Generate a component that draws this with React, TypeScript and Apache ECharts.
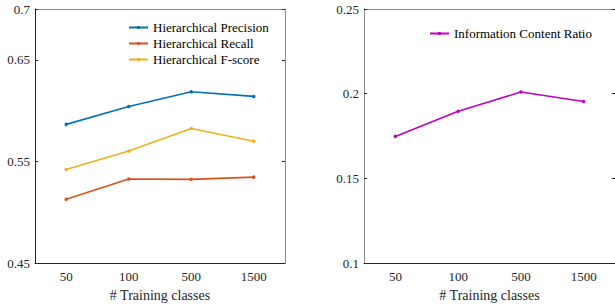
import React, { useEffect, useRef } from "react";
import * as echarts from "echarts";

const categories = ["50", "100", "500", "1500"];
const precision = [0.5865, 0.604, 0.6186, 0.614];
const recall = [0.5128, 0.5327, 0.5324, 0.5346];
const fscore = [0.542, 0.5603, 0.5824, 0.5699];
const icr = [0.1748, 0.1896, 0.201, 0.1954];
const leftTicks = [0.45, 0.55, 0.65, 0.7];
const rightTicks = [0.1, 0.15, 0.2, 0.25];

const FONT = "'Liberation Serif', 'Times New Roman', serif";
const DARK = "#262626";
const GRAY = "#8a8a8a";

export default function App() {
  const ref = useRef<HTMLDivElement>(null);
  useEffect(() => {
    const chart = echarts.init(ref.current!, null, { renderer: "svg" });
    const labelStyle = { fontFamily: FONT, fontSize: 13, color: DARK };
    const xBottom = (gridIndex: number) => ({
      type: "category",
      gridIndex,
      data: categories,
      position: "bottom",
      boundaryGap: true,
      name: "# Training classes",
      nameLocation: "middle",
      nameGap: 20,
      nameTextStyle: { ...labelStyle, fontSize: 14 },
      axisLine: { lineStyle: { color: DARK, width: 1 } },
      axisTick: { inside: true, length: 3, alignWithLabel: true, lineStyle: { color: DARK } },
      axisLabel: { ...labelStyle, margin: 7 },
      splitLine: { show: false },
    });
    const xTop = (gridIndex: number) => ({
      type: "category",
      gridIndex,
      data: categories,
      position: "top",
      boundaryGap: true,
      axisLine: { lineStyle: { color: GRAY, width: 1 } },
      axisTick: { inside: true, length: 3, alignWithLabel: true, lineStyle: { color: DARK } },
      axisLabel: { show: false },
      splitLine: { show: false },
    });
    const yAxis = (gridIndex: number, min: number, max: number, ticks: number[], pos: string, lineColor: string) => ({
      type: "value",
      gridIndex,
      min,
      max,
      position: pos,
      axisLine: { show: true, lineStyle: { color: lineColor, width: 1 } },
      axisTick: { show: true, inside: true, length: 3, customValues: ticks, lineStyle: { color: DARK } },
      axisLabel: pos === "left"
        ? { ...labelStyle, margin: 5, customValues: ticks, formatter: (v: number) => String(+v.toFixed(2)) }
        : { show: false },
      splitLine: { show: false },
    });
    const line = (name: string, data: number[], color: string, xi: number, yi: number) => ({
      type: "line",
      name,
      data,
      xAxisIndex: xi,
      yAxisIndex: yi,
      symbol: "circle",
      symbolSize: 3.5,
      lineStyle: { color, width: 1.6 },
      itemStyle: { color },
      color,
    });
    chart.setOption({
      animation: false,
      grid: [
        { left: 35, top: 9, width: 250, height: 260 },
        { left: 364, top: 9, width: 251, height: 260 },
      ],
      xAxis: [xBottom(0), xTop(0), xBottom(1), xTop(1)],
      yAxis: [
        yAxis(0, 0.45, 0.7, leftTicks, "left", DARK),
        yAxis(0, 0.45, 0.7, leftTicks, "right", GRAY),
        yAxis(1, 0.1, 0.25, rightTicks, "left", GRAY),
        yAxis(1, 0.1, 0.25, rightTicks, "right", GRAY),
      ],
      legend: [
        {
          data: ["Hierarchical Precision", "Hierarchical Recall", "Hierarchical F-score"],
          orient: "vertical",
          left: 128,
          top: 21,
          padding: 0,
          itemWidth: 19,
          itemHeight: 4,
          itemGap: 3,
          textStyle: { fontFamily: FONT, fontSize: 13, color: "#000" },
        },
        {
          data: ["Information Content Ratio"],
          orient: "vertical",
          left: 429,
          top: 27,
          padding: 0,
          itemWidth: 19,
          itemHeight: 4,
          textStyle: { fontFamily: FONT, fontSize: 13, color: "#000" },
        },
      ],
      series: [
        line("Hierarchical Precision", precision, "#0072BD", 0, 0),
        line("Hierarchical Recall", recall, "#D95319", 0, 0),
        line("Hierarchical F-score", fscore, "#EDB120", 0, 0),
        line("Information Content Ratio", icr, "#BF00BF", 2, 2),
      ],
    });
    return () => chart.dispose();
  }, []);
  return (
    <div
      ref={ref}
      style={{ position: "absolute", left: 0, top: 0, width: 615, height: 307, background: "#fff" }}
    />
  );
}
